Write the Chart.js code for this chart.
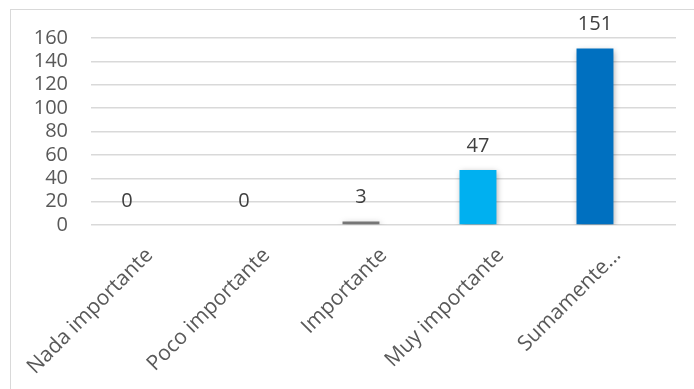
<!DOCTYPE html>
<html>
<head>
<meta charset="utf-8">
<script src="https://cdn.jsdelivr.net/npm/chart.js@4/dist/chart.umd.min.js"></script>
<style>
  html, body { margin: 0; padding: 0; background: #fff; overflow: hidden; }
  #wrap { position: relative; width: 694px; height: 389px; }
  #frame { position: absolute; left: 10px; top: 9px; width: 720px; height: 420px;
           border: 1.5px solid #d9d9d9; box-sizing: border-box; }
  #chart { position: absolute; left: 0; top: 0; }
</style>
</head>
<body>
<div id="wrap">
  <div id="frame"></div>
  <canvas id="chart" width="694" height="389"></canvas>
</div>
<script>
const categories = ['Nada importante', 'Poco importante', 'Importante', 'Muy importante', 'Sumamente...'];
const counts = [0, 0, 3, 47, 151];
const barColors = ['#7f7f7f', '#7f7f7f', '#767676', '#00b0f0', '#0070c0'];
const yTicks = [0, 20, 40, 60, 80, 100, 120, 140, 160];

const textColor = '#595959';
const fontFamily = '"Open Sans", "Segoe UI", sans-serif';

// soft drop shadow under the bars
const barShadow = {
  id: 'barShadow',
  beforeDatasetsDraw(chart) {
    const ctx = chart.ctx;
    ctx.save();
    ctx.shadowColor = 'rgba(0,0,0,0.35)';
    ctx.shadowBlur = 6;
    ctx.shadowOffsetX = 1;
    ctx.shadowOffsetY = 2;
  },
  afterDatasetsDraw(chart) {
    chart.ctx.restore();
  }
};

// value labels above each bar
const valueLabels = {
  id: 'valueLabels',
  afterDatasetsDraw(chart) {
    const ctx = chart.ctx;
    const meta = chart.getDatasetMeta(0);
    ctx.save();
    ctx.font = '20px ' + fontFamily;
    ctx.fillStyle = '#404040';
    ctx.textAlign = 'center';
    ctx.textBaseline = 'middle';
    meta.data.forEach((bar, i) => {
      ctx.fillText(String(counts[i]), bar.x, bar.y - 24);
    });
    ctx.restore();
  }
};

new Chart(document.getElementById('chart'), {
  type: 'bar',
  data: {
    labels: categories,
    datasets: [
      { data: counts, backgroundColor: barColors, borderWidth: 0 },
      { data: categories.map(() => null) }
    ]
  },
  options: {
    responsive: false,
    animation: false,
    events: [],
    datasets: { bar: { categoryPercentage: 0.77, barPercentage: 0.82 } },
    layout: { padding: { left: 0, right: 18, top: 38, bottom: 0 } },
    plugins: { legend: { display: false }, tooltip: { enabled: false } },
    scales: {
      x: {
        grid: { display: false, drawTicks: false },
        border: { display: false },
        ticks: {
          color: textColor,
          font: { family: fontFamily, size: 21 },
          minRotation: 45, maxRotation: 45,
          padding: 18,
          autoSkip: false
        },
        afterFit(scale) { scale.height = 164; }
      },
      y: {
        min: 0, max: 160,
        afterBuildTicks(scale) { scale.ticks = yTicks.map(v => ({ value: v })); },
        grid: { color: '#d9d9d9', lineWidth: 1.5, drawTicks: false },
        border: { display: false },
        ticks: {
          color: textColor,
          font: { family: fontFamily, size: 20 },
          padding: 23,
          autoSkip: false
        },
        afterFit(scale) { scale.width = 91; }
      }
    }
  },
  plugins: [barShadow, valueLabels]
});
</script>
</body>
</html>
